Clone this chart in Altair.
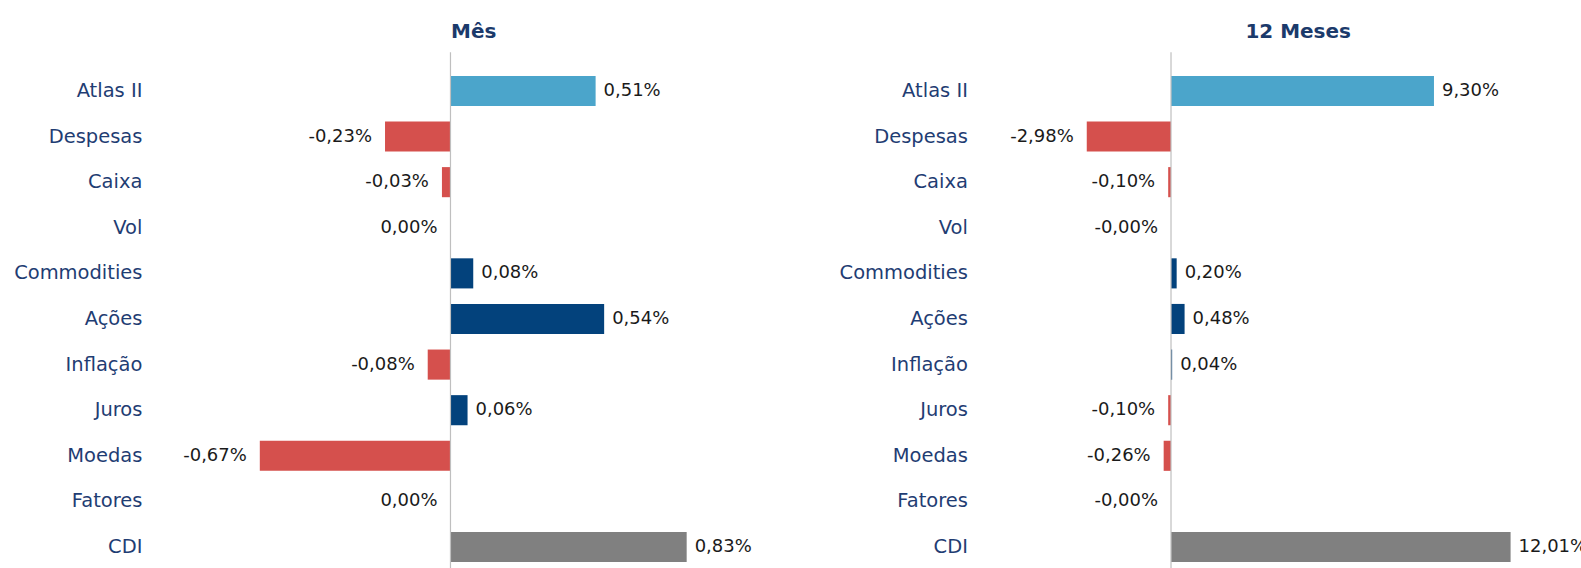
import altair as alt
import pandas as pd

categories = ["Atlas II", "Despesas", "Caixa", "Vol", "Commodities", "Ações",
              "Inflação", "Juros", "Moedas", "Fatores", "CDI"]
mes_values = [0.51, -0.23, -0.03, 0.00, 0.08, 0.54, -0.08, 0.06, -0.67, 0.00, 0.83]
doze_values = [9.30, -2.98, -0.10, -0.0, 0.20, 0.48, 0.04, -0.10, -0.26, -0.0, 12.01]

titles = ["Mês", "12 Meses"]

kind_domain = ["fund", "bench", "pos", "neg"]
kind_colors = ["#4BA5CB", "#808080", "#03427C", "#D5504D"]

FONT = "DejaVu Sans"
PLOT_H = 502


def fmt(v):
    return f"{v:.2f}".replace(".", ",") + "%"


def panel(values, title, domain, width, label_pad, title_dx):
    df = pd.DataFrame({"cat": categories, "v": values,
                       "label": [fmt(v) for v in values]})
    base = alt.Chart(df).transform_calculate(
        kind="datum.cat == 'Atlas II' ? 'fund' : datum.cat == 'CDI' ? 'bench' : datum.v >= 0 ? 'pos' : 'neg'"
    )
    y = alt.Y("cat:N", sort=categories,
              scale=alt.Scale(paddingInner=0.34, paddingOuter=0.17),
              axis=alt.Axis(title=None, domain=False, ticks=False, grid=False,
                            labelPadding=label_pad, labelFont=FONT,
                            labelFontSize=19.5, labelColor="#1F3D73",
                            labelLimit=400))
    x = alt.X("v:Q", scale=alt.Scale(domain=domain, nice=False), axis=None)
    bars = base.mark_bar().encode(
        x=x, y=y,
        color=alt.Color("kind:N", scale=alt.Scale(domain=kind_domain, range=kind_colors),
                        legend=None),
    )
    pos = base.transform_filter("datum.v > 0").mark_text(
        align="left", baseline="middle", dx=8, font=FONT, fontSize=18, color="#1a1a1a",
        clip=True,
    ).encode(x=x, y=y, text="label:N")
    neg = base.transform_filter("datum.v <= 0").mark_text(
        align="right", baseline="middle", dx=-13, font=FONT, fontSize=18, color="#1a1a1a"
    ).encode(x=x, y=y, text="label:N")
    rule = alt.Chart(pd.DataFrame({"z": [0]})).mark_rule(color="#BFBFBF", strokeWidth=1.2).encode(
        x=alt.X("z:Q", scale=alt.Scale(domain=domain, nice=False), axis=None),
        y=alt.value(-16), y2=alt.value(PLOT_H),
    )
    return alt.layer(bars, pos, neg, rule).properties(
        width=width, height=PLOT_H,
        title=alt.TitleParams(title, font=FONT, fontSize=20, fontWeight="bold",
                              color="#1B3A6B", anchor="middle", dx=title_dx, offset=10),
    )


left = panel(mes_values, titles[0], [-1.0, 1.1], 598, 24, 9)
right = panel(doze_values, titles[1], [-6.0, 14.5], 580, 34, 7)

chart = alt.hconcat(left, right, spacing=75).properties(
    padding={"left": 13, "top": 21, "right": 0, "bottom": 0}
).configure_view(stroke=None)

chart.save("out.html", embed_options={"renderer": "svg", "actions": False})
